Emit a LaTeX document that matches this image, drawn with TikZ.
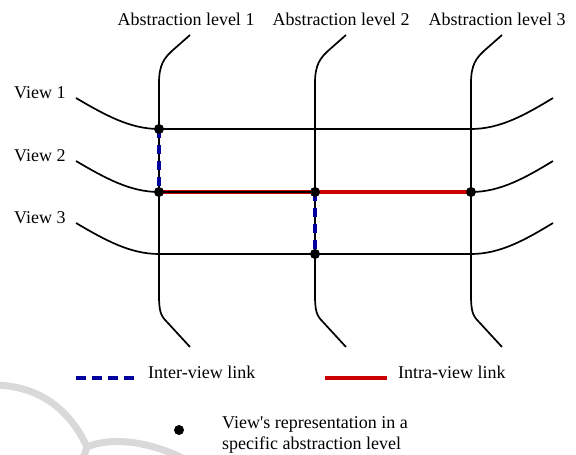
\documentclass[tikz,border=0pt]{standalone}
\usepackage{fontspec}
\setmainfont{Liberation Serif}
\begin{document}
\begin{tikzpicture}[x=1pt,y=-1pt,
  lbl/.style={inner sep=0pt,font=\fontsize{18}{20}\selectfont},
  gridline/.style={line width=1.7pt,black},
  inter/.style={line width=4pt,draw={rgb,255:red,0;green,0;blue,160},dash pattern=on 9pt off 7pt},
  intra/.style={line width=4pt,draw={rgb,255:red,204;green,0;blue,0}},
  rep/.style={circle,fill=black,inner sep=0pt,minimum size=10pt},
  wm/.style={line width=7pt,draw=black!15,line cap=round}]
\useasboundingbox (0,0) rectangle (576,455);
% watermark
\draw[wm] (-5,385) .. controls (40,386) and (70,410) .. (87,447);
\draw[wm] (87,447) .. controls (110,437) and (150,440) .. (190,462);
\draw[wm] (87,447) -- (82,462);
% labels
\node[lbl] (al1) at (186,19) {Abstraction level 1};
\node[lbl] (al2) at (341,19) {Abstraction level 2};
\node[lbl] (al3) at (497,19) {Abstraction level 3};
\node[lbl,anchor=west] (v1) at (14,93) {View 1};
\node[lbl,anchor=west] (v2) at (14,156) {View 2};
\node[lbl,anchor=west] (v3) at (14,218) {View 3};
% grid
\foreach \x/\n in {159/a,315/b,471/c}{
  \coordinate (\n1) at (\x,129);
  \coordinate (\n2) at (\x,192);
  \coordinate (\n3) at (\x,254);
  \draw[gridline] (\x+31,35) -- (\x+14,50) .. controls (\x+5,58) and (\x,65) .. (\x,83)
     -- (\x,295) .. controls (\x,312) and (\x+2,316) .. (\x+8,322) -- (\x+31,347);
}
\foreach \y/\n in {129/1,192/2,254/3}{
  \draw[gridline] (76,\y-31) .. controls (105,\y-14) and (130,\y) .. (a\n) -- (c\n)
     .. controls (500,\y) and (525,\y-14) .. (553,\y-31);
}
% links
\draw[intra] (a2) -- (c2);
\draw[line width=1.5pt,black] (a2) -- (b2);
\draw[inter] (a1) -- (a2);
\draw[inter] (b2) -- (b3);
% representation dots
\foreach \n in {a1,a2,b2,c2,b3}{ \node[rep] at (\n) {}; }
% legend
\coordinate (l1s) at (76,378); \coordinate (l1e) at (134,378);
\draw[inter,dash pattern=on 10pt off 6pt] (l1s) -- (l1e);
\node[lbl,anchor=west] (t1) at (148,372) {Inter-view link};
\coordinate (l2s) at (325,378); \coordinate (l2e) at (387,378);
\draw[intra] (l2s) -- (l2e);
\node[lbl,anchor=west] (t2) at (398,372) {Intra-view link};
\node[rep] (ld) at (179,430) {};
\node[lbl,anchor=west,align=left] (t3) at (222,435) {View\textquotesingle s representation in a\\[1pt]specific abstraction level};
\end{tikzpicture}
\end{document}
